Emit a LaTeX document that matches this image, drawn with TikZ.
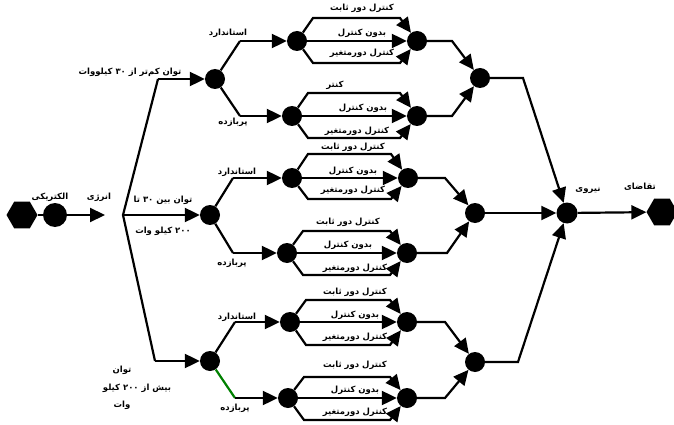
\documentclass[tikz,border=0pt]{standalone}
\usepackage{fontspec}
\usetikzlibrary{arrows.meta,shapes.geometric}
\TeXXeTstate=1
\newfontfamily\arfont[Script=Arabic]{DejaVu Sans}
\newcommand{\fa}[1]{\beginR #1\endR}
\definecolor{lgreen}{RGB}{0,128,0}
\begin{document}
\begin{tikzpicture}[x=1pt,y=-1pt,
  ln/.style={line width=2.2pt},
  arr/.style={line width=2.2pt,-{Triangle[length=15pt,width=14pt]}},
  dot/.style={circle,fill=black,inner sep=0pt,minimum size=20pt},
  hex/.style={regular polygon,regular polygon sides=6,fill=black,inner sep=0pt,minimum size=31pt},
  lab/.style={font=\arfont\bfseries\fontsize{8.5}{9}\selectfont,inner sep=0pt}]
\clip (0,0) rectangle (674,425);
% source
\node[hex] (hL) at (22,215) {};
\node[dot,minimum size=24pt] (cL) at (55,215) {};
\coordinate (aL) at (105,215);
\coordinate (T) at (123,215);
\coordinate (T1) at (158,79);
\coordinate (T3) at (155,361);
\node[dot] (A) at (215,79) {};
\node[dot] (B) at (210,215) {};
\node[dot] (C) at (210,361) {};
\draw[ln] (hL) -- (cL);
\draw[arr] (cL) -- (aL);
\draw[ln] (T1) -- (T) -- (T3);
\draw[arr] (T1) -- (A);
\draw[arr] (T) -- (B);
\draw[arr] (T3) -- (C);
% level 2
\coordinate (Aup) at (240,41);  \node[dot] (A1) at (297,41) {};
\coordinate (Adn) at (240,116); \node[dot] (A2) at (292,116) {};
\coordinate (Bup) at (233,178); \node[dot] (B1) at (292,178) {};
\coordinate (Bdn) at (233,253); \node[dot] (B2) at (287,253) {};
\coordinate (Cup) at (235,322); \node[dot] (C1) at (290,322) {};
\coordinate (Cdn) at (235,398); \node[dot] (C2) at (288,398) {};
\draw[ln] (A) -- (Aup); \draw[arr] (Aup) -- (A1);
\draw[ln] (A) -- (Adn); \draw[arr] (Adn) -- (A2);
\draw[ln] (B) -- (Bup); \draw[arr] (Bup) -- (B1);
\draw[ln] (B) -- (Bdn); \draw[arr] (Bdn) -- (B2);
\draw[ln] (C) -- (Cup); \draw[arr] (Cup) -- (C1);
\draw[ln,draw=lgreen] (C) -- (Cdn); \draw[arr] (Cdn) -- (C2);
% level 3
\foreach \n/\x/\y/\xc/\yu/\yd in {A1/297/41/417/18/63, A2/292/116/417/93/138,
  B1/292/178/408/154/199, B2/287/253/407/231/275,
  C1/290/322/407/300/345, C2/288/398/407/377/420}{
  \node[dot] (\n c) at (\xc,\y) {};
  \draw[arr] (\n) -- (\x+16,\yu) -- (\xc-17,\yu) -- (\n c);
  \draw[arr] (\n) -- (\n c);
  \draw[arr] (\n) -- (\x+16,\yd) -- (\xc-17,\yd) -- (\n c);
}
% level 4
\node[dot] (Ac) at (480,78) {};
\node[dot] (Bc) at (475,213) {};
\node[dot] (Cc) at (475,362) {};
\draw[arr] (A1c) -- (452,41) -- (Ac);
\draw[arr] (A2c) -- (452,116) -- (Ac);
\draw[arr] (B1c) -- (445,178) -- (Bc);
\draw[arr] (B2c) -- (447,253) -- (Bc);
\draw[arr] (C1c) -- (445,322) -- (Cc);
\draw[arr] (C2c) -- (445,398) -- (Cc);
% level 5
\node[dot,minimum size=21pt] (F) at (567,213) {};
\node[hex] (hR) at (662,212) {};
\draw[arr] (Ac) -- (523,78) -- (F);
\draw[arr] (Bc) -- (F);
\draw[arr] (Cc) -- (518,362) -- (F);
\draw[arr] (F) -- (hR);
% labels
\node[lab] at (50,197) {\fa{الکتریکی}};
\node[lab] at (99,197) {\fa{انرژی}};
\node[lab] at (130,72) {\fa{توان کم‌تر از ۳۰ کیلووات}};
\node[lab] at (163,200) {\fa{توان بین ۳۰ تا}};
\node[lab] at (163,231) {\fa{۲۰۰ کیلو وات}};
\node[lab] at (122,370) {\fa{توان}};
\node[lab] at (137,388) {\fa{بیش از ۲۰۰ کیلو}};
\node[lab] at (122,405) {\fa{وات}};
\node[lab] at (228,33) {\fa{استاندارد}};
\node[lab] at (233,122) {\fa{پربازده}};
\node[lab] at (237,172) {\fa{استاندارد}};
\node[lab] at (232,263) {\fa{پربازده}};
\node[lab] at (237,317) {\fa{استاندارد}};
\node[lab] at (235,408) {\fa{پربازده}};
\node[lab] at (588,190) {\fa{نیروی}};
\node[lab] at (640,187) {\fa{تقاضای}};
% group labels
\node[lab] at (362,8) {\fa{کنترل دور ثابت}};
\node[lab] at (362,33) {\fa{بدون کنترل}};
\node[lab] at (362,53) {\fa{کنترل دورمتغیر}};
\node[lab] at (335,85) {\fa{کنتر}};
\node[lab] at (363,108) {\fa{بدون کنترل}};
\node[lab] at (357,131) {\fa{کنترل دورمتغیر}};
\node[lab] at (353,147) {\fa{کنترل دور ثابت}};
\node[lab] at (353,171) {\fa{بدون کنترل}};
\node[lab] at (353,190) {\fa{کنترل دورمتغیر}};
\node[lab] at (348,222) {\fa{کنترل دور ثابت}};
\node[lab] at (348,245) {\fa{بدون کنترل}};
\node[lab] at (355,268) {\fa{کنترل دورمتغیر}};
\node[lab] at (355,292) {\fa{کنترل دور ثابت}};
\node[lab] at (355,315) {\fa{بدون کنترل}};
\node[lab] at (355,337) {\fa{کنترل دورمتغیر}};
\node[lab] at (355,365) {\fa{کنترل دور ثابت}};
\node[lab] at (355,390) {\fa{بدون کنترل}};
\node[lab] at (355,412) {\fa{کنترل دورمتغیر}};
\end{tikzpicture}
\end{document}
